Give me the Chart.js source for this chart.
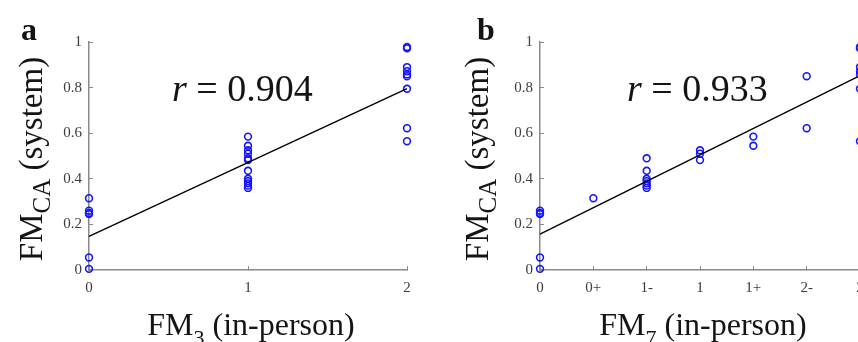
<!DOCTYPE html>
<html>
<head>
<meta charset="utf-8">
<script src="https://cdn.jsdelivr.net/npm/chart.js@4.4.0/dist/chart.umd.min.js"></script>
<style>
html, body { margin: 0; padding: 0; background: #fff; overflow: hidden; width: 858px; height: 342px; }
#wrapA { position: absolute; left: 0; top: 0; width: 430px; height: 342px; }
#wrapB { position: absolute; left: 430px; top: 0; width: 450px; height: 342px; }
</style>
</head>
<body>
<div id="wrapA"><canvas id="chartA" width="430" height="342"></canvas></div>
<div id="wrapB"><canvas id="chartB" width="450" height="342"></canvas></div>
<script>
// panel a: FM3 in-person grade (0,1,2) vs FM_CA system score
var fm3Labels = ['0', '1', '2'];
var fm3Values = [
    [0.315, 0.26, 0.25, 0.245, 0.055, 0.005],
    [0.585, 0.545, 0.525, 0.51, 0.49, 0.482, 0.435, 0.40, 0.39, 0.38, 0.37, 0.36],
    [0.978, 0.972, 0.89, 0.872, 0.858, 0.85, 0.795, 0.622, 0.565]
];
var fitA = [0.147, 0.795];   // regression line at x = 0 and x = 2
var rA = '0.904';

// panel b: FM7 in-person grade vs FM_CA system score
var fm7Labels = ['0', '0+', '1-', '1', '1+', '2-', '2'];
var fm7Values = [
    [0.26, 0.25, 0.245, 0.055, 0.005],
    [0.315],
    [0.49, 0.435, 0.40, 0.39, 0.38, 0.37, 0.36],
    [0.525, 0.51, 0.482],
    [0.585, 0.545],
    [0.85, 0.622],
    [0.978, 0.972, 0.89, 0.872, 0.858, 0.795, 0.565]
];
var fitB = [0.157, 0.852];   // regression line at x = 0 and x = 6
var rB = '0.933';

var yTickLabels = ['0', '0.2', '0.4', '0.6', '0.8', '1'];

var SERIF = '"Liberation Serif", "Times New Roman", serif';
var AXIS_GREY = '#8a8a8a';
var TICK_GREY = '#3c3c3c';
var TEXT = '#141414';

function toPoints(groups) {
    var pts = [];
    groups.forEach(function (vals, g) {
        vals.forEach(function (v) { pts.push({x: g, y: v}); });
    });
    return pts;
}

// draws panel letter, r value and the axis titles (with subscripts)
var panelText = {
    id: 'panelText',
    afterDraw: function (chart, args, o) {
        var ctx = chart.ctx;
        var area = chart.chartArea;
        ctx.save();
        ctx.fillStyle = TEXT;
        ctx.textBaseline = 'alphabetic';
        ctx.textAlign = 'left';

        ctx.font = 'bold 32px ' + SERIF;
        ctx.fillText(o.letter, o.letterX, 40);

        // r = ...
        ctx.font = 'italic 38px ' + SERIF;
        var wr = ctx.measureText('r').width;
        ctx.fillText('r', o.rX, 101);
        ctx.font = '38px ' + SERIF;
        ctx.fillText(' = ' + o.r, o.rX + wr, 101);

        // x title
        var main = 32, sub = 22;
        ctx.font = main + 'px ' + SERIF;
        var w1 = ctx.measureText('FM').width;
        var w3 = ctx.measureText(' (in-person)').width;
        ctx.font = sub + 'px ' + SERIF;
        var w2 = ctx.measureText(o.xSub).width;
        var cx = (area.left + area.right) / 2 + 3;
        var x0 = cx - (w1 + w2 + w3) / 2;
        ctx.font = main + 'px ' + SERIF;
        ctx.fillText('FM', x0, 335);
        ctx.font = sub + 'px ' + SERIF;
        ctx.fillText(o.xSub, x0 + w1, 345);
        ctx.font = main + 'px ' + SERIF;
        ctx.fillText(' (in-person)', x0 + w1 + w2, 335);

        // y title, rotated
        var ym = 33, ys = 25;
        ctx.translate(o.yTitleX, 159);
        ctx.rotate(-Math.PI / 2);
        ctx.font = ym + 'px ' + SERIF;
        var a1 = ctx.measureText('FM').width;
        var a3 = ctx.measureText(' (system)').width;
        ctx.font = ys + 'px ' + SERIF;
        var a2 = ctx.measureText('CA').width;
        var s0 = -(a1 + a2 + a3) / 2;
        ctx.font = ym + 'px ' + SERIF;
        ctx.fillText('FM', s0, 0);
        ctx.font = ys + 'px ' + SERIF;
        ctx.fillText('CA', s0 + a1, 8);
        ctx.font = ym + 'px ' + SERIF;
        ctx.fillText(' (system)', s0 + a1 + a2, 0);
        ctx.restore();
    }
};

function makeChart(id, groups, fit, xMax, xLabels, padRight, yWidth, text) {
    var ctx = document.getElementById(id);
    return new Chart(ctx, {
        type: 'scatter',
        data: {
            datasets: [{
                type: 'line',
                data: [{x: 0, y: fit[0]}, {x: xMax, y: fit[1]}],
                borderColor: '#000',
                borderWidth: 1.4,
                pointRadius: 0,
                fill: false,
                clip: false
            }, {
                data: toPoints(groups),
                pointStyle: 'circle',
                pointRadius: 3.4,
                borderWidth: 1.6,
                borderColor: '#1515ff',
                backgroundColor: 'rgba(0,0,0,0)',
                clip: false
            }]
        },
        options: {
            responsive: false,
            devicePixelRatio: 1,
            animation: false,
            layout: {padding: {left: 0, right: padRight, top: 42, bottom: 0}},
            plugins: {legend: {display: false}, tooltip: {enabled: false}, panelText: text},
            scales: {
                x: {
                    type: 'linear',
                    min: 0, max: xMax,
                    ticks: {
                        stepSize: 1,
                        padding: 13,
                        color: TICK_GREY,
                        font: {family: SERIF, size: 15},
                        callback: function (v) { return xLabels[v]; }
                    },
                    grid: {drawOnChartArea: false, tickLength: -4, color: AXIS_GREY, lineWidth: 1},
                    border: {color: AXIS_GREY, width: 1.5},
                    afterFit: function (s) { s.height = 72; }
                },
                y: {
                    min: 0, max: 1,
                    ticks: {
                        stepSize: 0.2,
                        padding: 11,
                        color: TICK_GREY,
                        font: {family: SERIF, size: 15},
                        callback: function (v) { return yTickLabels[Math.round(v * 5)]; }
                    },
                    grid: {drawOnChartArea: false, tickLength: -4, color: AXIS_GREY, lineWidth: 1},
                    border: {color: AXIS_GREY, width: 1.5},
                    afterFit: function (s) { s.width = yWidth; }
                }
            }
        },
        plugins: [panelText]
    });
}

makeChart('chartA', fm3Values, fitA, 2, fm3Labels, 23, 89,
    {letter: 'a', letterX: 21, r: rA, rX: 172, xSub: '3', yTitleX: 42});
makeChart('chartB', fm7Values, fitB, 6, fm7Labels, 20, 110,
    {letter: 'b', letterX: 47, r: rB, rX: 197, xSub: '7', yTitleX: 58});
</script>
</body>
</html>
